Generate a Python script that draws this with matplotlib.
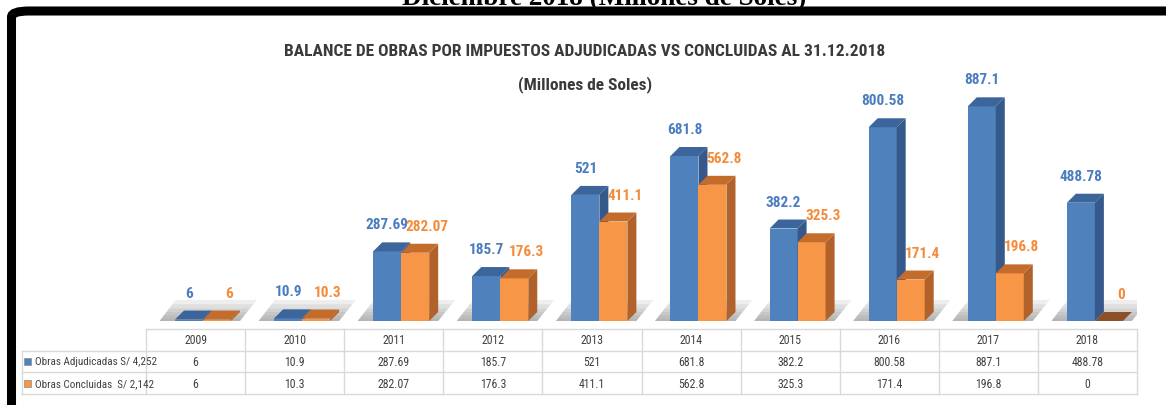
import numpy as np
import matplotlib.pyplot as plt
from matplotlib import font_manager
from matplotlib.patches import Polygon, Rectangle, FancyBboxPatch

# data
years = ['2009', '2010', '2011', '2012', '2013', '2014', '2015', '2016', '2017', '2018']
adjudicadas = [6, 10.9, 287.69, 185.7, 521, 681.8, 382.2, 800.58, 887.1, 488.78]
concluidas = [6, 10.3, 282.07, 176.3, 411.1, 562.8, 325.3, 171.4, 196.8, 0]
row_labels = ['Obras Adjudicadas S/ 4,252', 'Obras Concluidas  S/ 2,142']
title = 'BALANCE DE OBRAS POR IMPUESTOS ADJUDICADAS VS CONCLUIDAS AL 31.12.2018'
subtitle = '(Millones de Soles)'
top_caption = 'Diciembre 2018 (Millones de Soles)'

# pick a narrow font if there is one
names = {f.name for f in font_manager.fontManager.ttflist}
narrow = 'DejaVu Sans'
for cand in ['Liberation Sans Narrow', 'DejaVu Sans Condensed', 'Roboto Condensed', 'Open Sans Condensed', 'Noto Sans']:
    if cand in names:
        narrow = cand
        break

W, H = 1166, 406
fig = plt.figure(figsize=(W / 100, H / 100), dpi=100)
fig.patch.set_facecolor('white')

def fx(px):
    return px / W

def fy(py):
    return 1 - py / H

# colours
blue, blue_side, blue_top = '#4f81bd', '#34598a', '#3b659b'
orange, orange_side, orange_top = '#f79646', '#b0622a', '#c46c2c'
blue_txt, orange_txt = '#4a7dbf', '#f38b3a'

# main axes: value 0 sits at y=322px, 0.242 px per unit
px_per_val = 0.242
ax = fig.add_axes([fx(146), fy(322), 991 / W, 302 / H])
ax.set_xlim(-0.5, 9.5)
ax.set_ylim(0, 302 / px_per_val)
ax.axis('off')

x = np.arange(len(years))
bw = 28 / 99.1
off = 0.075
dx = 9 / 99.1
dy = 9 / px_per_val

# soft floor shadows, darker near the floor
sh_h = 22 / px_per_val
for i in x:
    for t in [1.0, 0.8, 0.6, 0.45, 0.3, 0.15]:
        top = -0.04 * sh_h + t * sh_h
        xl = i - 0.37 + 0.17 * t
        xr = i + 0.44 + 0.18 * t
        ax.add_patch(Polygon([(i - 0.37, -0.04 * sh_h), (i + 0.44, -0.04 * sh_h), (xr, top), (xl, top)],
                             closed=True, facecolor='#808080', edgecolor='none', alpha=0.13, zorder=1))

bl = x + off - bw
ol = x + off
ax.bar(bl, adjudicadas, width=bw, align='edge', color=blue, zorder=2)
ax.bar(ol, concluidas, width=bw, align='edge', color=orange, zorder=4)

def depth(left, v, side_c, top_c, z):
    right = left + bw
    ax.add_patch(Polygon([(right, 0), (right + dx, dy), (right + dx, v + dy), (right, v)],
                         closed=True, facecolor=side_c, edgecolor='none', zorder=z))
    ax.add_patch(Polygon([(left, v), (left + dx, v + dy), (right + dx, v + dy), (right, v)],
                         closed=True, facecolor=top_c, edgecolor='none', zorder=z))

lab_off = 27 / px_per_val
for i in x:
    va_, vc_ = adjudicadas[i], concluidas[i]
    depth(bl[i], va_, blue_side, blue_top, 3)
    depth(ol[i], vc_, orange_side, orange_top if vc_ > 0 else '#8c5126', 5)
    ax.text(bl[i] + bw / 2, va_ + lab_off, f'{va_:g}', ha='center', va='center',
            color=blue_txt, fontsize=11, fontweight='bold', family=narrow, zorder=6)
    ax.text(ol[i] + bw / 2 + 0.12, vc_ + lab_off, f'{vc_:g}', ha='center', va='center',
            color=orange_txt, fontsize=11, fontweight='bold', family=narrow, zorder=6)

# data table, drawn on an axes sharing the category positions
tab = fig.add_axes([fx(146), fy(395), 991 / W, 65 / H])
tab.set_xlim(-0.5, 9.5)
tab.set_ylim(3, 0)
tab.axis('off')
lab_left = -0.5 - 124 / 99.1
line_kw = dict(color='#d9d9d9', linewidth=1.0, clip_on=False)
n = len(years)
tab.plot([-0.5, n - 0.5], [0, 0], **line_kw)
for yy in [1, 2, 3]:
    tab.plot([lab_left, n - 0.5], [yy, yy], **line_kw)
for k in range(n + 1):
    tab.plot([k - 0.5, k - 0.5], [0, 3], **line_kw)
tab.plot([lab_left, lab_left], [1, 3], **line_kw)

txt_kw = dict(fontsize=8.5, color='#404040', family=narrow, va='center', clip_on=False)
for i, yr in enumerate(years):
    tab.text(i, 0.5, yr, ha='center', **txt_kw)
    tab.text(i, 1.5, f'{adjudicadas[i]:g}', ha='center', **txt_kw)
    tab.text(i, 2.5, f'{concluidas[i]:g}', ha='center', **txt_kw)
lab_kw = dict(txt_kw, fontsize=8)
for r, (lab, col) in enumerate(zip(row_labels, [blue, orange])):
    tab.text(lab_left + 13 / 99.1, r + 1.5, lab, ha='left', **lab_kw)
    tab.add_patch(Rectangle((lab_left + 2 / 99.1, r + 1.5 - 0.16), 7 / 99.1, 0.32,
                            facecolor=col, edgecolor='#8a8a8a', linewidth=0.5, clip_on=False))

# titles
fig.text(fx(585), fy(52), title, ha='center', va='center', fontsize=12.5,
         fontweight='bold', color='#3a3a3a', family=narrow)
fig.text(fx(585), fy(85), subtitle, ha='center', va='center', fontsize=12.5,
         fontweight='bold', color='#3a3a3a', family=narrow)
fig.text(fx(604), fy(5), top_caption, ha='center', va='baseline', fontsize=19.5,
         fontweight='bold', color='black', family='Liberation Serif')

# black frame (only left and top show)
frame = FancyBboxPatch((fx(11.5), -0.2), 1.3, fy(12) + 0.2,
                       boxstyle='round,pad=0,rounding_size=0.015',
                       facecolor='none', edgecolor='black', linewidth=6.5,
                       transform=fig.transFigure, zorder=10)
fig.patches.append(frame)

fig.savefig('out.png', dpi=100)
